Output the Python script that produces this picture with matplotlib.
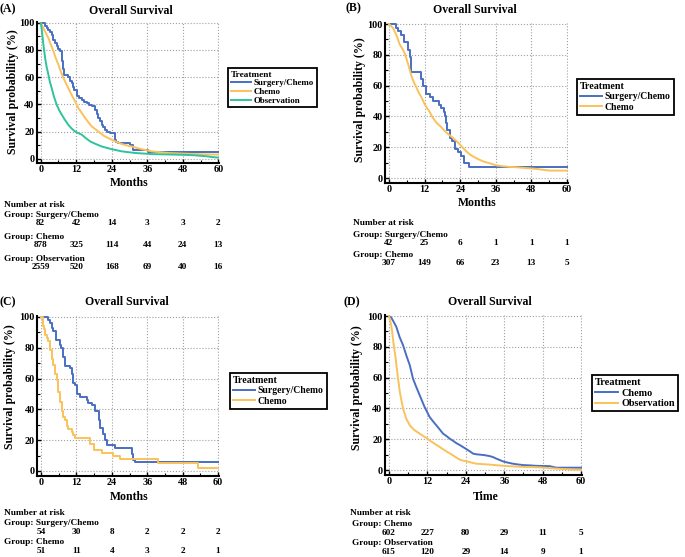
import matplotlib
matplotlib.use("Agg")
import matplotlib.pyplot as plt
import matplotlib.transforms as mtransforms

W, H = 685, 557
BLUE = "#4a6fc2"
ORANGE = "#fac25a"
GREEN = "#2fc39c"
GRID = "#a0a0a0"
FONT = "Liberation Serif"

plt.rcParams["font.family"] = FONT
plt.rcParams["font.weight"] = "bold"

# ---- data (months, survival %) ----
A_sc_t = [0, 1.5, 2.0, 2.6, 3.2, 3.8, 4.3, 4.9, 5.4, 6.0, 6.5, 7.1, 7.6, 8.0, 9.3, 9.9, 10.5, 11.0,
          11.4, 12.2, 13.0, 13.9, 14.7, 15.5, 16.3, 17.2, 18.4, 19.0, 19.5, 20.0, 20.6, 21.1, 21.7,
          22.4, 23.4, 25.1, 25.6, 26.2, 30.2, 31.3, 36.4, 60]
A_sc_s = [100, 97.6, 96.3, 94.8, 93.0, 91.0, 87.5, 85.0, 82.6, 80.5, 79.0, 71.6, 66.0, 61.8, 59.8,
          57.5, 55.6, 53.0, 50.7, 45.8, 44.5, 43.4, 42.0, 40.9, 39.5, 38.5, 36.0, 33.0, 30.0, 27.5,
          25.0, 23.0, 21.3, 19.5, 18.9, 14.0, 12.5, 11.5, 10.3, 6.6, 5.0, 5.0]
A_ch_t = [0, 0.9, 1.7, 2.6, 3.4, 4.3, 5.1, 6.0, 6.8, 7.7, 8.5, 9.3, 10.2, 11.0, 11.9, 12.7, 13.9,
          15.0, 16.1, 17.2, 18.4, 19.5, 20.6, 21.7, 22.8, 24.0, 25.7, 27.4, 29.0, 30.7, 32.4, 34.1,
          35.8, 37.5, 40.3, 43.1, 47.5, 52.0, 56.0, 60]
A_ch_s = [100, 96, 92.5, 88.7, 84, 79, 74, 69, 64, 59.3, 55.5, 52, 48, 44.6, 41, 37.3, 33.5, 30,
          26.8, 23.8, 21.8, 20, 18, 16.4, 15.2, 14, 12.3, 10.8, 9.8, 9, 8, 7, 6.2, 5.4, 4.8, 4.2,
          3.8, 3.4, 3.2, 3.0]
A_ob_t = [0, 0.3, 0.6, 0.9, 1.2, 1.5, 2.0, 2.6, 3.1, 3.7, 4.5, 5.4, 6.2, 7.1, 8.2, 9.3, 10.4, 11.6,
          12.7, 13.9, 15.3, 16.7, 18.6, 20.6, 22.3, 24.0, 25.7, 27.4, 29.6, 31.9, 34.7, 37.5, 41.5,
          45.4, 48.8, 52.1, 56, 58, 60]
A_ob_s = [100, 96, 90, 84, 79, 74, 67.5, 61.8, 56.5, 52, 45.5, 39.7, 35.8, 32.4, 28.5, 25, 22.3, 20,
          18.8, 17.6, 15, 12.7, 10.8, 9, 8, 7, 6.2, 5.4, 4.8, 4.2, 3.8, 3.4, 3.2, 3.0, 2.8, 2.5, 1.8,
          1.2, 0.8]

B_sc_t = [0, 2.2, 3.0, 4.2, 5.0, 6.4, 7.0, 7.5, 10.9, 11.5, 12.4, 13.7, 14.8, 17.0, 17.6, 18.4,
          18.8, 19.3, 19.7, 20.4, 21.3, 22.1, 23.3, 24.4, 25.2, 27.0, 60]
B_sc_s = [100, 97.6, 95.2, 92.9, 88.1, 83.3, 78.6, 69.0, 64.3, 59.5, 54.8, 52.4, 50.0, 47.6, 45.2,
          42.9, 40.5, 35.7, 31.0, 26.2, 23.8, 19.0, 16.7, 14.3, 9.5, 7.1, 7.1]
B_ch_t = [0, 1.3, 2.5, 3.6, 4.5, 5.3, 6.4, 7.5, 8.3, 9.2, 10.0, 10.9, 12.0, 12.8, 13.7, 14.5, 15.4,
          16.2, 17.1, 18.2, 19.3, 20.4, 21.6, 22.7, 23.8, 25.0, 26.0, 27.1, 28.3, 30.0, 31.7, 34.0,
          36.2, 38.5, 40.7, 43.0, 45.2, 47.5, 49.7, 52.0, 54.2, 57, 60]
B_ch_s = [100, 97.6, 92.8, 86.7, 84, 81, 74.3, 66.7, 62.5, 59, 55.5, 52.6, 48, 45.5, 43, 40, 37.4,
          35.5, 34, 31.8, 29.6, 27.8, 26, 24, 22, 19.5, 17.4, 15.5, 14, 12.3, 10.8, 9.5, 8.2, 7.6,
          7.2, 7.0, 6.6, 6.3, 5.9, 5.3, 4.8, 4.8, 4.8]

C_sc_t = [0, 2.5, 3.0, 3.6, 4.2, 5.0, 6.4, 6.8, 7.6, 8.1, 9.8, 10.4, 11.0, 11.5, 12.1, 13.2, 15.5,
          16.0, 17.2, 18.3, 19.7, 20.0, 21.1, 21.7, 22.3, 25.2, 30.7, 31.3, 31.9, 60]
C_sc_s = [100, 98.1, 96.3, 92.6, 90.7, 85.2, 81.5, 79.6, 74.1, 68.5, 66.7, 63.0, 57.4, 55.6, 50.0,
          48.1, 46.3, 44.4, 42.6, 38.9, 33.3, 27.8, 24.1, 20.4, 16.7, 15.2, 11.1, 7.4, 5.6, 5.6]
C_ch_t = [0, 0.8, 1.1, 1.4, 2.0, 2.5, 3.0, 3.6, 4.2, 4.7, 5.3, 5.9, 6.4, 7.0, 7.6, 8.1, 8.7, 9.3,
          10.4, 10.9, 11.5, 16.6, 17.8, 20.6, 24.5, 26.8, 39.8, 53.3, 60]
C_ch_s = [100, 94.1, 92.2, 88.2, 86.3, 84.3, 78.4, 72.5, 68.6, 62.7, 58.8, 51.0, 45.1, 39.2, 35.3,
          33.3, 29.4, 27.5, 25.5, 23.5, 21.6, 17.6, 13.7, 11.8, 9.8, 7.8, 4.9, 2.2, 2.2]

D_ch_t = [0, 0.7, 1.25, 2.3, 3.3, 4.4, 5.4, 6.5, 7.5, 8.5, 9.6, 11.1, 12.7, 13.8, 14.8, 15.9, 16.9,
          18.0, 19.0, 20.0, 21.0, 22.3, 23.6, 25.0, 26.3, 27.3, 28.3, 30.0, 31.5, 32.5, 33.5, 34.6,
          35.6, 37.1, 38.7, 40.3, 41.9, 44.0, 46.0, 48.1, 50.2, 52.3, 60]
D_ch_s = [100, 99, 97, 92.9, 86.4, 81, 74.5, 68, 59.3, 54, 48.5, 41, 34.4, 31.5, 29, 26.2, 23.6,
          22, 20.3, 19, 17.5, 16, 14.3, 12.5, 10.6, 10.2, 10, 9.6, 9, 8.4, 7.4, 6.5, 5.6, 4.8, 4.1,
          3.6, 3.2, 3.0, 2.7, 2.6, 2.5, 1.5, 1.5]
D_ob_t = [0, 0.7, 1.0, 1.25, 1.5, 1.8, 2.1, 2.3, 2.6, 2.8, 3.1, 3.3, 3.6, 3.9, 4.4, 4.9, 5.4, 6.0,
          6.5, 7.2, 8.0, 8.8, 9.6, 10.6, 11.7, 12.7, 13.8, 14.8, 15.8, 16.9, 17.9, 19.0, 20.0, 21.0,
          22.1, 23.1, 24.2, 25.8, 27.3, 29.4, 31.5, 34.1, 36.7, 39.3, 41.9, 44.5, 47.1, 49.7, 52.3,
          54.4, 56.5, 58, 60]
D_ob_s = [100, 94, 89.5, 85, 80.8, 76.6, 72.3, 68, 63.7, 59.3, 55.5, 51.7, 48.3, 45, 39.8, 36.5,
          33.3, 31, 29, 27.4, 25.8, 24.7, 23.6, 22.2, 20.8, 19.2, 17.7, 16.3, 15, 13.5, 12.1, 10.8,
          9.5, 8.1, 6.7, 6.1, 5.6, 4.8, 4.1, 3.8, 3.5, 3.0, 2.6, 2.3, 2.0, 1.9, 1.7, 1.3, 0.9, 0.6,
          0.4, 0.2, 0.0]

RISK_TIMES = [0, 12, 24, 36, 48, 60]
A_risk = {"Surgery/Chemo": [82, 42, 14, 3, 3, 2],
          "Chemo": [878, 325, 114, 44, 24, 13],
          "Observation": [2559, 520, 168, 69, 40, 16]}
B_risk = {"Surgery/Chemo": [42, 25, 6, 1, 1, 1],
          "Chemo": [307, 149, 66, 23, 13, 5]}
C_risk = {"Surgery/Chemo": [54, 30, 8, 2, 2, 2],
          "Chemo": [51, 11, 4, 3, 2, 1]}
D_risk = {"Chemo": [602, 227, 80, 29, 11, 5],
          "Observation": [615, 120, 29, 14, 9, 1]}

XL = (-1.4, 60.3)
YL = (-3.0, 100.6)

fig = plt.figure(figsize=(W / 100, H / 100), dpi=100)


def ftxt(x, y, s, size=8.5, **kw):
    # text placed in pixel coords of the figure
    fig.text(x / W, 1 - y / H, s, fontsize=size, fontweight="bold", **kw)


def make_axes(x0, x60, y100, y0):
    sx = (x60 - x0) / 60.
    sy = (y0 - y100) / 100.
    left = x0 + XL[0] * sx
    right = x0 + XL[1] * sx
    top = y0 - YL[1] * sy
    bottom = y0 - YL[0] * sy
    ax = fig.add_axes([left / W, 1 - bottom / H, (right - left) / W, (bottom - top) / H])
    ax.set_xlim(*XL)
    ax.set_ylim(*YL)
    ax.spines["top"].set_visible(False)
    ax.spines["right"].set_visible(False)
    for s in ("left", "bottom"):
        ax.spines[s].set_linewidth(1.5)
    ax.set_xticks(RISK_TIMES)
    ax.set_xticks(range(6, 60, 12), minor=True)
    ax.set_yticks(range(0, 101, 20))
    ax.set_yticks(range(10, 100, 20), minor=True)
    ax.tick_params(direction="in", length=3, width=1, labelsize=7.3, pad=1.5)
    ax.tick_params(which="minor", direction="in", length=2, width=0.8)
    ax.grid(True, which="major", linestyle=":", color=GRID, linewidth=0.8)
    ax.set_axisbelow(True)
    return ax


def curve(ax, t, s, color, label, smooth=False):
    # big groups look smooth at this size, small ones show clear steps
    if smooth:
        ax.plot(t, s, color=color, linewidth=1.4, label=label)
    else:
        ax.step(t, s, where="post", color=color, linewidth=1.4, label=label)


def add_legend(ax, x, y, size, spacing=0.05):
    leg = ax.legend(title="Treatment", loc="upper left", bbox_to_anchor=(x / W, 1 - y / H),
                    bbox_transform=fig.transFigure, fancybox=False, edgecolor="black",
                    framealpha=1, fontsize=size, borderpad=0.3, labelspacing=spacing,
                    handlelength=2.3, handletextpad=0.3, borderaxespad=0,
                    alignment="left",
                    title_fontproperties={"weight": "bold", "size": size + 0.3})
    leg.get_frame().set_linewidth(1.3)


def risk_table(ax, x, rows, ys, size=6.7, indent=0):
    ftxt(x, ys[0], "Number at risk", size=size, va="center")
    trans = mtransforms.blended_transform_factory(ax.transData, fig.transFigure)
    for i, (name, counts) in enumerate(rows.items()):
        ftxt(x + indent, ys[1 + 2 * i], "Group: " + name, size=size, va="center")
        for t, n in zip(RISK_TIMES, counts):
            ax.text(t, 1 - ys[2 + 2 * i] / H, str(n), transform=trans, ha="center",
                    va="center", fontsize=size, fontweight="bold", clip_on=False)


# (A)
ax = make_axes(40.7, 218.3, 22.7, 158.7)
curve(ax, A_sc_t, A_sc_s, BLUE, "Surgery/Chemo")
curve(ax, A_ch_t, A_ch_s, ORANGE, "Chemo", smooth=True)
curve(ax, A_ob_t, A_ob_s, GREEN, "Observation", smooth=True)
add_legend(ax, 228, 68, 6.4)
ftxt(0, 9, "(A)", va="center")
ftxt(131, 11, "Overall Survival", ha="center", va="center")
ftxt(129, 183, "Months", ha="center", va="center")
ftxt(13, 92, "Survival probability (%)", rotation=90, ha="center", va="center")
risk_table(ax, 4, A_risk, [205, 215, 223, 237, 245, 259, 267])

# (B)
ax = make_axes(389, 567, 24, 178)
curve(ax, B_sc_t, B_sc_s, BLUE, "Surgery/Chemo")
curve(ax, B_ch_t, B_ch_s, ORANGE, "Chemo", smooth=True)
add_legend(ax, 577, 79, 6.9, spacing=0.15)
ftxt(345, 8, "(B)", va="center")
ftxt(475, 10, "Overall Survival", ha="center", va="center")
ftxt(477, 203, "Months", ha="center", va="center")
ftxt(360, 100, "Survival probability (%)", rotation=90, ha="center", va="center")
risk_table(ax, 353, B_risk, [223, 235, 243, 255, 263])

# (C)
ax = make_axes(41, 218, 317, 471)
curve(ax, C_sc_t, C_sc_s, BLUE, "Surgery/Chemo")
curve(ax, C_ch_t, C_ch_s, ORANGE, "Chemo")
add_legend(ax, 230, 373, 6.9, spacing=0.15)
ftxt(0, 302, "(C)", va="center")
ftxt(127, 302, "Overall Survival", ha="center", va="center")
ftxt(129, 497, "Months", ha="center", va="center")
ftxt(10, 387, "Survival probability (%)", rotation=90, ha="center", va="center")
risk_table(ax, 4, C_risk, [513, 523, 532, 542, 551])

# (D)
ax = make_axes(389, 581, 316, 470)
curve(ax, D_ch_t, D_ch_s, BLUE, "Chemo", smooth=True)
curve(ax, D_ob_t, D_ob_s, ORANGE, "Observation", smooth=True)
add_legend(ax, 592, 375, 7.3, spacing=0.15)
ftxt(344, 302, "(D)", va="center")
ftxt(490, 302, "Overall Survival", ha="center", va="center")
ftxt(486, 497, "Time", ha="center", va="center")
ftxt(357, 388, "Survival probability (%)", rotation=90, ha="center", va="center")
risk_table(ax, 350, D_risk, [513, 524, 533, 543, 552], indent=2)

fig.savefig("out.png", dpi=100)
